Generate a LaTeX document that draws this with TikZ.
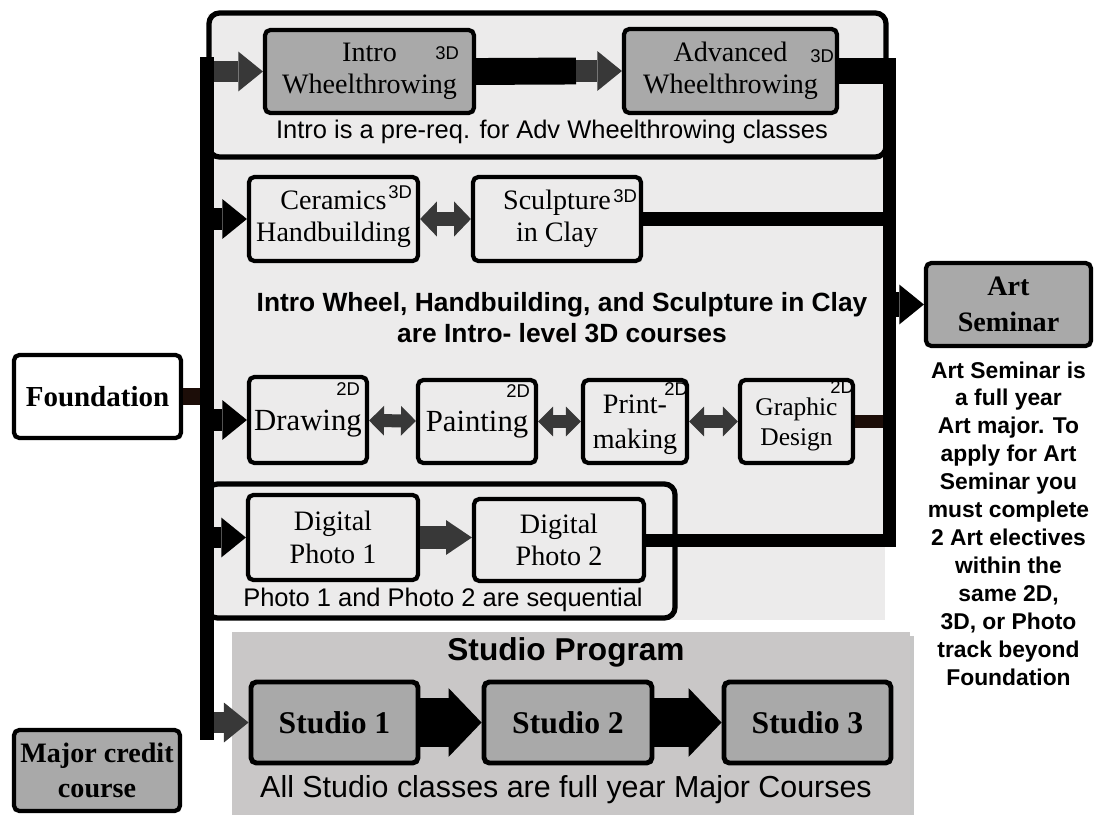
\documentclass[tikz,border=0pt]{standalone}
\usepackage{fontspec}
\setmainfont{Liberation Serif}
\setsansfont{Liberation Sans}
\usepackage{tikz}
\usetikzlibrary{arrows.meta,positioning,shadows}
\definecolor{panel}{HTML}{ECEBEB}
\definecolor{boxgray}{HTML}{A9A9A9}
\definecolor{studiobg}{HTML}{C9C7C7}
\definecolor{arrowgray}{HTML}{383838}
\definecolor{brownbar}{HTML}{1C0D08}

\begin{document}
\begin{tikzpicture}[x=0.02cm,y=-0.02cm]
  \tikzstyle{course}=[rectangle,rounded corners=3pt,draw=black,line width=2.4pt,
  			fill=panel,inner sep=0pt,align=center,
  			font=\fontsize{16}{18.5}\selectfont]
  \tikzstyle{gray course}=[course,fill=boxgray]
  \tikzstyle{key course}=[gray course,font=\bfseries\fontsize{16}{20}\selectfont]
  \tikzstyle{studio}=[gray course,line width=2.8pt,minimum height=1.62cm,
  			font=\bfseries\fontsize{18}{20}\selectfont]
  \tikzstyle{tag}=[font=\sffamily\fontsize{10.5}{12}\selectfont,inner sep=0pt]
  \tikzstyle{caption}=[font=\sffamily\fontsize{14.5}{17}\selectfont,align=center,inner sep=0pt]
  \tikzstyle{note}=[font=\sffamily\bfseries\fontsize{13}{15.9}\selectfont,align=center,inner sep=0pt]
  \tikzstyle{frame}=[draw=black,line width=3pt,rounded corners=6pt]
  \tikzstyle{bus}=[draw=black,line width=7.9pt]
  \tikzstyle{bar}=[draw=black,line width=15.3pt]
  \tikzstyle{feed}=[draw=arrowgray,line width=12.5pt,
  			-{Triangle[width=22.7pt,length=14pt,line width=0pt]}]
  \tikzstyle{black feed}=[feed,draw=black]
  \tikzstyle{pair}=[draw=arrowgray,line width=8.5pt,
  			{Triangle[width=20pt,length=9.6pt,line width=0pt]}-{Triangle[width=20pt,length=9.6pt,line width=0pt]}]
  \tikzstyle{small pair}=[draw=arrowgray,line width=7.4pt,
  			{Triangle[width=17pt,length=8.5pt,line width=0pt]}-{Triangle[width=17pt,length=8.5pt,line width=0pt]}]
  \tikzstyle{next}=[draw=arrowgray,line width=13.6pt,
  			-{Triangle[width=19.8pt,length=14.7pt,line width=0pt]}]
  \tikzstyle{push}=[draw=black,line width=27.8pt,
  			-{Triangle[width=39pt,length=18.7pt,line width=0pt]}]

  \useasboundingbox (0,0) rectangle (1096,815);

  % panels
  \fill[panel] (208,14) rectangle (885,620);
  \draw[frame] (209,13) rectangle (886,157);
  \draw[frame] (207,484) rectangle (675,618);
  \fill[studiobg,drop shadow={opacity=.45,shadow xshift=2.5pt,shadow yshift=-2pt}]
    (232,632) rectangle (910,830);

  % wheelthrowing
  \node [gray course,minimum width=4.18cm,minimum height=1.66cm] (intro) at (369.5,71.5) {Intro\\Wheelthrowing};
  \node [gray course,minimum width=4.26cm,minimum height=1.68cm] (adv) at (730.5,71) {Advanced\\Wheelthrowing};
  \node [tag] at ([shift={(-29,25)}]intro.north east) {3D};
  \node [tag] at ([shift={(-17,29)}]adv.north east) {3D};
  \node [caption] (wheelnote) at (552,132) {Intro is a pre-req. for Adv Wheelthrowing classes};

  % 3D courses
  \node [course,minimum width=3.38cm,minimum height=1.68cm] (cer) at (333.5,219) {Ceramics\\Handbuilding};
  \node [course,minimum width=3.36cm,minimum height=1.68cm] (scu) at (557,219) {Sculpture\\in Clay};
  \node [tag] at ([shift={(-20,17)}]cer.north east) {3D};
  \node [tag] at ([shift={(-18,21)}]scu.north east) {3D};
  \node [caption,font=\sffamily\bfseries\fontsize{15}{17.6}\selectfont] (clay) at (562,318)
    {Intro Wheel, Handbuilding, and Sculpture in Clay\\are Intro- level 3D courses};

  % 2D courses
  \node [course,minimum width=2.36cm,minimum height=1.72cm,text depth=0pt,font=\fontsize{17.5}{20}\selectfont] (drw) at (308,420) {Drawing};
  \node [course,minimum width=2.36cm,minimum height=1.66cm,text depth=0pt,font=\fontsize{17.5}{20}\selectfont] (pnt) at (477,421.5) {Painting};
  \node [course,minimum width=2.08cm,minimum height=1.66cm,text depth=0pt,font=\fontsize{16}{20}\selectfont] (prt) at (635,421.5) {Print-\\making};
  \node [course,minimum width=2.26cm,minimum height=1.66cm,text depth=0pt,font=\fontsize{14.5}{17}\selectfont] (gra) at (796.5,421.5) {Graphic\\Design};
  \node [tag] at ([shift={(-21,14)}]drw.north east) {2D};
  \node [tag] at ([shift={(-20,13)}]pnt.north east) {2D};
  \node [tag] at ([shift={(-13,11)}]prt.north east) {2D};
  \node [tag] at ([shift={(-13,9)}]gra.north east) {2D};

  % photo
  \node [course,minimum width=3.4cm,minimum height=1.7cm] (dp1) at (333,537.5) {Digital\\Photo 1};
  \node [course,minimum width=3.4cm,minimum height=1.64cm] (dp2) at (559,540) {Digital\\Photo 2};
  \node [caption] (photonote) at (443,600) {Photo 1 and Photo 2 are sequential};

  % studio program
  \node [caption,font=\sffamily\bfseries\fontsize{18}{21}\selectfont] (stitle) at (566,652) {Studio Program};
  \node [studio,minimum width=3.34cm] (s1) at (334.5,722.5) {Studio 1};
  \node [studio,minimum width=3.36cm] (s2) at (568,722.5) {Studio 2};
  \node [studio,minimum width=3.34cm] (s3) at (807.5,722.5) {Studio 3};
  \node [caption,font=\sffamily\fontsize{17.3}{20}\selectfont] (snote) at (566,790) {All Studio classes are full year Major Courses};

  % foundation, seminar, key
  \node [key course,fill=white,minimum width=3.34cm,minimum height=1.66cm,font=\bfseries\fontsize{16.5}{20}\selectfont] (found) at (97.5,396.5) {Foundation};
  \node [key course,minimum width=3.3cm,minimum height=1.66cm,font=\bfseries\fontsize{16}{20.4}\selectfont] (artsem) at (1008.5,304.5) {Art\\Seminar};
  \node [note] (why) [below=0.26cm of artsem]
    {Art Seminar is\\a full year\\Art major. To\\apply for Art\\Seminar you\\must complete\\2 Art electives\\within the\\same 2D,\\3D, or Photo\\track beyond\\Foundation};
  \node [key course,minimum width=3.32cm,minimum height=1.62cm] (major) at (97,770.5) {Major credit\\course};

  % connectors
  \coordinate (ltop) at (207,57);
  \coordinate (lbot) at (207,740);
  \coordinate (rtop) at (889,58);
  \coordinate (ia) at (576,71);

  \draw[feed] (intro.west -| ltop) -- (intro.west);
  \draw[bar] (intro.east) -- (ia);
  \draw[feed] (ia) -- (adv.west);
  \draw[bar] (adv.east) -- (adv.east -| rtop);

  \draw[black feed] (cer.west -| ltop) -- (cer.west);
  \draw[pair] (cer) -- (scu);
  \draw[bar,line width=8.5pt] (scu.east) -- (scu.east -| rtop);

  \draw[black feed] (drw.west -| ltop) -- (drw.west);
  \draw[small pair] (drw) -- (pnt);
  \draw[small pair] (pnt) -- (prt);
  \draw[small pair] (prt) -- (gra);
  \draw[bar,draw=brownbar,line width=7.4pt] (gra.east) -- (gra.east -| rtop);

  \draw[black feed] (dp1.west -| ltop) -- (dp1.west);
  \draw[next] (dp1.east) -- (dp1.east -| dp2.west);

  \draw[feed] (s1.west -| ltop) -- (s1.west);
  \draw[push] (s1) -- (s2);
  \draw[push] (s2) -- (s3);

  \draw[bar,draw=brownbar,line width=9.6pt] (found.east) -- (found.east -| ltop);
  \draw[black feed,line width=14pt] (artsem.west -| rtop) -- (artsem.west);

  % buses
  \draw[bus] (ltop) -- (lbot);
  \draw[bus,line width=7.4pt] (rtop) -- (dp2.east -| rtop) -- (dp2.east);
\end{tikzpicture}
\end{document}
